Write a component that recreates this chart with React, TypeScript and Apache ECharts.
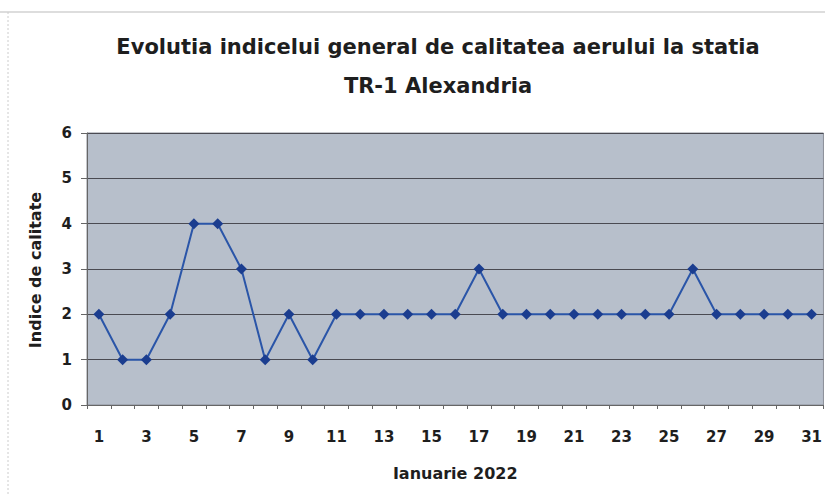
import React, { useEffect, useRef } from "react";
import * as echarts from "echarts";

const days = Array.from({ length: 31 }, (_, i) => String(i + 1));
const indexValues = [2, 1, 1, 2, 4, 4, 3, 1, 2, 1, 2, 2, 2, 2, 2, 2, 3, 2, 2, 2, 2, 2, 2, 2, 2, 3, 2, 2, 2, 2, 2];
const titleLine1 = "Evolutia indicelui general de calitatea aerului la statia";
const titleLine2 = "TR-1 Alexandria";
const yName = "Indice de calitate";
const xName = "Ianuarie 2022";

export default function App() {
  const ref = useRef<HTMLDivElement>(null);
  useEffect(() => {
    const chart = echarts.init(ref.current!, null, { renderer: "svg" });
    const font = "DejaVu Sans, Liberation Sans, sans-serif";
    const titleStyle = { fontFamily: font, fontWeight: "bold", fontSize: 21, fill: "#1e1e1e", align: "center", verticalAlign: "middle" };
    chart.setOption({
      animation: false,
      backgroundColor: "#ffffff",
      graphic: [
        { type: "line", shape: { x1: 0, y1: 12, x2: 825, y2: 12 }, style: { stroke: "#bbb", lineWidth: 1 }, z: -1 },
        { type: "line", shape: { x1: 8, y1: 12, x2: 8, y2: 495 }, style: { stroke: "#ccc", lineWidth: 1, lineDash: [2, 2] }, z: -1 },
        { type: "text", x: 438, y: 47, style: { ...titleStyle, text: titleLine1 } },
        { type: "text", x: 438, y: 86, style: { ...titleStyle, text: titleLine2 } },
        {
          type: "text",
          x: 35,
          y: 270,
          rotation: Math.PI / 2,
          style: { text: yName, fontFamily: font, fontWeight: "bold", fontSize: 16, fill: "#1e1e1e", align: "center", verticalAlign: "middle" },
        },
      ],
      grid: { left: 87, top: 133, right: 0, bottom: 90, show: true, backgroundColor: "#b7bfcb", borderColor: "#8a8f98", borderWidth: 1 },
      xAxis: {
        type: "category",
        data: days,
        boundaryGap: true,
        name: xName,
        nameLocation: "middle",
        nameGap: 60,
        nameTextStyle: { fontFamily: font, fontWeight: "bold", fontSize: 16, color: "#1e1e1e" },
        axisLine: { lineStyle: { color: "#666", width: 1 } },
        axisTick: { show: true, interval: 0, length: 4, lineStyle: { color: "#666" } },
        axisLabel: { interval: 1, margin: 24, fontFamily: font, fontWeight: "bold", fontSize: 15, color: "#1e1e1e" },
      },
      yAxis: {
        type: "value",
        min: 0,
        max: 6,
        interval: 1,
        axisLine: { show: true, lineStyle: { color: "#666" } },
        axisTick: { show: true, length: 6, lineStyle: { color: "#666" } },
        axisLabel: { margin: 15, fontFamily: font, fontWeight: "bold", fontSize: 15, color: "#1e1e1e" },
        splitLine: { lineStyle: { color: "#4a4a52", width: 1 } },
      },
      series: [
        {
          type: "line",
          data: indexValues,
          symbol: "diamond",
          symbolSize: 11,
          lineStyle: { color: "#2a55a8", width: 2 },
          itemStyle: { color: "#1b3d8f" },
        },
      ],
    });
    return () => chart.dispose();
  }, []);
  return <div ref={ref} style={{ position: "fixed", left: 0, top: 0, width: 825, height: 495 }} />;
}
